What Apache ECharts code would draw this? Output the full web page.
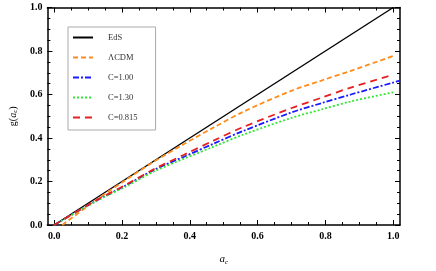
<!DOCTYPE html>
<html><head><meta charset="utf-8">
<script src="https://cdn.jsdelivr.net/npm/echarts@6/dist/echarts.min.js"></script>
<style>html,body{margin:0;padding:0;background:#fff}#c{width:436px;height:271px}</style>
</head><body><div id="c"></div>
<script>
const seriesNames = ['EdS', 'ΛCDM', 'C=1.00', 'C=1.30', 'C=0.815'];
const edsA = [0, 1];
const edsG = [0, 1];
const lcdmA = [0.024, 0.122, 0.209, 0.296, 0.383, 0.47, 0.557, 0.701, 0.788, 0.875, 1.0];
const lcdmG = [0, 0.113, 0.205, 0.293, 0.372, 0.448, 0.52, 0.618, 0.664, 0.709, 0.777];
const c100A = [0, 0.122, 0.209, 0.296, 0.383, 0.47, 0.557, 0.701, 0.788, 0.875, 1.0, 1.02];
const c100G = [0, 0.11, 0.18, 0.254, 0.314, 0.374, 0.432, 0.518, 0.56, 0.6, 0.655, 0.664];
const c130A = [0, 0.122, 0.209, 0.296, 0.383, 0.47, 0.557, 0.701, 0.788, 0.875, 1.0];
const c130G = [0, 0.108, 0.175, 0.247, 0.305, 0.36, 0.415, 0.493, 0.531, 0.568, 0.61];
const c0815A = [0, 0.122, 0.209, 0.296, 0.383, 0.47, 0.557, 0.701, 0.788, 0.875, 1.0];
const c0815G = [0, 0.112, 0.183, 0.258, 0.323, 0.388, 0.45, 0.538, 0.585, 0.632, 0.691];
const xMajorTicks = [0, 0.2, 0.4, 0.6, 0.8, 1.0];
const xMinorTicks = [0.05, 0.1, 0.15, 0.25, 0.3, 0.35, 0.45, 0.5, 0.55, 0.65, 0.7, 0.75, 0.85, 0.9, 0.95];

const zip = (a, g) => a.map((v, i) => [v, g[i]]);
const serif = 'Liberation Serif';
const lblStyle = {fontFamily: serif, fontWeight: 'bold', fontSize: 10, color: '#000'};
function xAx(pos, ticks, len, showLine, showLabel) {
  return {
    type: 'value', min: -0.02, max: 1.02, position: pos, gridIndex: 0,
    axisLine: {show: showLine, onZero: false, lineStyle: {color: '#000', width: 1.5}},
    axisTick: {show: true, inside: true, length: len, customValues: ticks, lineStyle: {color: '#000', width: 1}},
    axisLabel: {show: showLabel, customValues: xMajorTicks, formatter: v => v.toFixed(1), margin: 6, ...lblStyle},
    splitLine: {show: false}
  };
}
function yAx(pos, showLabel) {
  return {
    type: 'value', min: 0, max: 1, interval: 0.2, position: pos,
    axisLine: {show: true, onZero: false, lineStyle: {color: '#000', width: 1.5}},
    axisTick: {show: true, inside: true, length: 5, lineStyle: {color: '#000', width: 1}},
    minorTick: {show: true, splitNumber: 4, length: 3, lineStyle: {color: '#000', width: 1}},
    axisLabel: {show: showLabel, formatter: v => v.toFixed(1), margin: 5, ...lblStyle},
    splitLine: {show: false}
  };
}
const xAxes = [xAx('bottom', xMajorTicks, 5, true, true), xAx('bottom', xMinorTicks, 3, false, false),
               xAx('top', xMajorTicks, 5, true, false), xAx('top', xMinorTicks, 3, false, false)];
xAxes[0].name = '{i|a}{s|c}';
xAxes[0].nameLocation = 'middle';
xAxes[0].nameGap = 28;
xAxes[0].nameTextStyle = {rich: {i: {fontFamily: serif, fontStyle: 'italic', fontSize: 11, color: '#000'},
  s: {fontFamily: serif, fontStyle: 'italic', fontSize: 7, color: '#000', padding: [6, 0, 0, 0]}}};
const yAxes = [yAx('left', true), yAx('right', false)];
yAxes[0].name = '{n|g(}{i|a}{s|c}{n|)}';
yAxes[0].nameLocation = 'middle';
yAxes[0].nameGap = 24;
yAxes[0].nameRotate = 90;
yAxes[0].nameTextStyle = {rich: {n: {fontFamily: serif, fontSize: 10, color: '#000'},
  i: {fontFamily: serif, fontStyle: 'italic', fontSize: 10, color: '#000'},
  s: {fontFamily: serif, fontStyle: 'italic', fontSize: 7, color: '#000', padding: [5, 0, 0, 0]}}};

function ser(name, data, color, type, width) {
  return {name, type: 'line', data, xAxisIndex: 0, yAxisIndex: 0, symbol: 'none', showSymbol: false, smooth: 0.3,
    lineStyle: {color, type, width}, itemStyle: {color}, silent: true};
}
const chart = echarts.init(document.getElementById('c'), null, {renderer: 'canvas'});
chart.setOption({
  animation: false,
  grid: {left: 41, right: 36, top: 7.5, bottom: 41.5, containLabel: false},
  xAxis: xAxes,
  yAxis: yAxes,
  legend: {
    show: true, orient: 'vertical', left: 68, top: 27, data: seriesNames,
    itemWidth: 20, itemHeight: 10, itemGap: 11, padding: [6, 18, 8, 4],
    borderColor: '#aaa', borderWidth: 1, backgroundColor: '#fff',
    itemStyle: {opacity: 0, borderWidth: 0},
    textStyle: {fontFamily: serif, fontSize: 8.5, color: '#333', padding: [0, 0, 0, 10]},
    selectedMode: false
  },
  series: [
    ser(seriesNames[0], zip(edsA, edsG), '#000000', 'solid', 1.4),
    ser(seriesNames[1], zip(lcdmA, lcdmG), '#ff8c1a', [5, 3], 1.8),
    ser(seriesNames[2], zip(c100A, c100G), '#1a1aff', [6, 2, 2, 2], 1.8),
    ser(seriesNames[3], zip(c130A, c130G), '#33e633', [2, 2], 1.8),
    ser(seriesNames[4], zip(c0815A, c0815G), '#e62020', [7, 5], 1.8)
  ]
});
</script></body></html>
